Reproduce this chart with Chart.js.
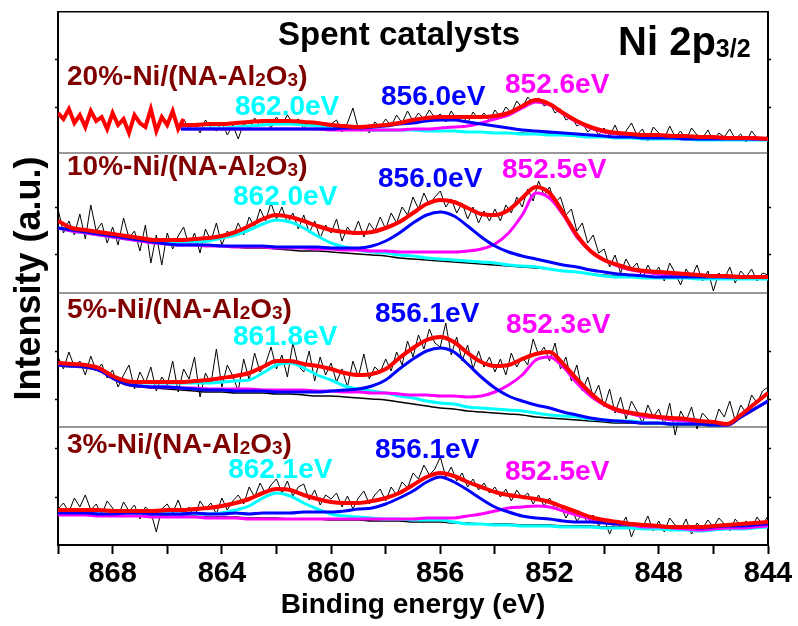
<!DOCTYPE html>
<html>
<head>
<meta charset="utf-8">
<script src="https://cdn.jsdelivr.net/npm/chart.js@4.4.1/dist/chart.umd.min.js"></script>
<style>
  html, body { margin: 0; padding: 0; background: #fff; }
  canvas { display: block; }
</style>
</head>
<body>
<canvas id="xps" width="798" height="626"></canvas>
<script>
// energy grids (eV)
const fitEnergy = [870, 869.5, 869, 868.5, 868, 867.5, 867, 866.5, 866, 865.5,
  865, 864.5, 864, 863.5, 863, 862.5, 862, 861.5, 861, 860.5,
  860, 859.5, 859, 858.5, 858, 857.5, 857, 856.5, 856, 855.5,
  855, 854.5, 854, 853.5, 853, 852.5, 852, 851.5, 851, 850.5,
  850, 849.5, 849, 848.5, 848, 847.5, 847, 846.5, 846, 845.5,
  845, 844.5, 844];
const rawEnergy = [870, 869.8, 869.6, 869.4, 869.2, 869, 868.8, 868.6, 868.4, 868.2,
  868, 867.8, 867.6, 867.4, 867.2, 867, 866.8, 866.6, 866.4, 866.2,
  866, 865.8, 865.6, 865.4, 865.2, 865, 864.8, 864.6, 864.4, 864.2,
  864, 863.8, 863.6, 863.4, 863.2, 863, 862.8, 862.6, 862.4, 862.2,
  862, 861.8, 861.6, 861.4, 861.2, 861, 860.8, 860.6, 860.4, 860.2,
  860, 859.8, 859.6, 859.4, 859.2, 859, 858.8, 858.6, 858.4, 858.2,
  858, 857.8, 857.6, 857.4, 857.2, 857, 856.8, 856.6, 856.4, 856.2,
  856, 855.8, 855.6, 855.4, 855.2, 855, 854.8, 854.6, 854.4, 854.2,
  854, 853.8, 853.6, 853.4, 853.2, 853, 852.8, 852.6, 852.4, 852.2,
  852, 851.8, 851.6, 851.4, 851.2, 851, 850.8, 850.6, 850.4, 850.2,
  850, 849.8, 849.6, 849.4, 849.2, 849, 848.8, 848.6, 848.4, 848.2,
  848, 847.8, 847.6, 847.4, 847.2, 847, 846.8, 846.6, 846.4, 846.2,
  846, 845.8, 845.6, 845.4, 845.2, 845, 844.8, 844.6, 844.4, 844.2,
  844];

// 20%-Ni
const raw20 = [40, 34, 44, 30, 38, 26, 42, 32, 36, 24,
  40, 28, 34, 20, 38, 30, 26, 44, 22, 36,
  28, 42, 24, 34, 24, 30, 20, 33, 26, 22,
  31, 18, 28, 14, 30, 24, 35, 27, 33, 25,
  36, 28, 38, 30, 34, 24, 32, 26, 30, 22,
  29, 33, 21, 30, 45, 24, 28, 20, 31, 26,
  34, 27, 38, 30, 42, 32, 40, 34, 43, 35,
  39, 31, 42, 33, 38, 30, 41, 34, 40, 32,
  43, 36, 46, 40, 52, 45, 56, 50, 55, 47,
  50, 40, 44, 33, 36, 27, 30, 21, 26, 18,
  25, 17, 28, 15, 22, 30, 18, 24, 12, 26,
  20, 14, 27, 16, 22, 13, 25, 18, 15, 23,
  12, 20, 16, 24, 14, 19, 11, 22, 15, 13,
  17];
const bg20 = [null, null, null, null, null, null, null, null, null, 24,
  24, 24, 24, 24, 24, 24, 24, 24, 24, 24,
  23, 23, 23, 23, 23, 23, 23, 22, 22, 22,
  21, 21, 20, 20, 20, 19, 19, 18, 17, 17,
  16, 16, 15, 15, 15, 15, 14, 14, 14, 14,
  14, 14, 14];
const cyan20 = [null, null, null, null, null, null, null, null, null, 24,
  24, 25, 25, 26, 27, 28, 29, 29, 28, 27,
  25, 24, 24, 23, 23, 23, 23, 22, 22, 22,
  21, 21, 20, 20, 19, 19, 18, 18, 17, 16,
  16, 15, 15, 14, 14, 14, 14, 13, 13, 13,
  13, 13, 13];
const blue20 = [null, null, null, null, null, null, null, null, null, 24,
  24, 24, 24, 24, 24, 24, 24, 24, 24, 24,
  24, 25, 25, 26, 27, 29, 30, 32, 33, 33,
  31, 29, 27, 25, 23, 22, 21, 20, 19, 18,
  17, 16, 16, 15, 15, 15, 14, 14, 14, 14,
  14, 14, 14];
const magenta20 = [null, null, null, null, null, null, null, null, null, 24,
  24, 24, 24, 24, 24, 24, 24, 24, 24, 24,
  23, 23, 23, 23, 23, 23, 24, 24, 25, 26,
  27, 30, 34, 38, 45, 51, 48, 39, 31, 25,
  21, 19, 18, 17, 17, 16, 16, 15, 15, 15,
  15, 14, 14];
const fit20 = [null, null, null, null, null, null, null, null, null, 28,
  28, 29, 29, 30, 31, 32, 32, 32, 31, 30,
  28, 27, 26, 27, 28, 30, 33, 35, 36, 36,
  36, 36, 37, 40, 47, 53, 49, 40, 32, 26,
  22, 20, 19, 18, 18, 17, 17, 16, 16, 15,
  15, 15, 14];
const fitStart20 = 865.4;

// 10%-Ni
const raw10 = [84, 60, 72, 58, 79, 54, 88, 62, 70, 50,
  66, 48, 75, 55, 62, 42, 68, 30, 58, 28,
  60, 44, 57, 66, 47, 60, 40, 64, 52, 70,
  48, 62, 56, 70, 58, 76, 66, 84, 72, 90,
  74, 86, 70, 80, 64, 78, 60, 72, 55, 68,
  60, 74, 52, 66, 58, 72, 56, 70, 62, 76,
  64, 80, 70, 86, 78, 96, 84, 100, 88, 96,
  102, 86, 94, 80, 90, 74, 86, 70, 82, 72,
  84, 72, 88, 80, 96, 86, 104, 92, 112, 98,
  106, 90, 96, 78, 84, 62, 70, 50, 58, 40,
  44, 26, 38, 20, 34, 24, 30, 14, 28, 18,
  26, 12, 30, 20, 8, 24, 16, 28, 12, 22,
  2, 20, 14, 26, 10, 22, 16, 24, 12, 20,
  18];
const bg10 = [65, 62, 60, 58, 56, 54, 52, 50, 49, 48,
  48, 47, 47, 46, 45, 45, 44, 43, 42, 42,
  41, 40, 39, 38, 37, 35, 34, 33, 32, 31,
  30, 29, 28, 27, 26, 25, 24, 22, 21, 19,
  18, 17, 17, 16, 16, 16, 16, 15, 15, 15,
  15, 15, 15];
const cyan10 = [65, 62, 60, 58, 56, 54, 52, 51, 50, 50,
  51, 52, 55, 58, 63, 69, 73, 71, 65, 57,
  50, 46, 43, 41, 40, 38, 37, 35, 34, 33,
  32, 31, 30, 28, 27, 26, 24, 22, 21, 19,
  17, 16, 16, 15, 15, 15, 15, 14, 14, 14,
  14, 14, 14];
const blue10 = [65, 63, 61, 59, 57, 55, 53, 51, 49, 48,
  48, 48, 47, 47, 47, 47, 46, 46, 46, 46,
  45, 45, 45, 47, 52, 60, 70, 78, 81, 77,
  67, 56, 47, 41, 37, 34, 31, 28, 26, 23,
  21, 19, 18, 17, 16, 16, 16, 16, 16, 16,
  16, 16, 16];
const magenta10 = [65, 62, 60, 58, 56, 54, 52, 50, 49, 48,
  48, 47, 47, 46, 46, 46, 45, 45, 45, 44,
  44, 43, 43, 42, 42, 41, 41, 41, 41, 41,
  42, 44, 49, 60, 78, 100, 95, 78, 56, 42,
  33, 27, 23, 21, 19, 18, 18, 17, 17, 16,
  16, 16, 16];
const fit10 = [72, 65, 63, 61, 59, 57, 55, 53, 53, 53,
  54, 55, 57, 61, 67, 74, 78, 76, 72, 67,
  63, 61, 60, 61, 65, 71, 80, 89, 93, 91,
  85, 79, 78, 83, 95, 106, 100, 80, 58, 42,
  33, 28, 24, 22, 21, 20, 19, 18, 17, 17,
  16, 16, 16];

// 5%-Ni
const raw5 = [70, 58, 75, 60, 66, 52, 71, 56, 63, 49,
  57, 40, 52, 62, 38, 55, 44, 60, 36, 50,
  42, 66, 35, 58, 48, 70, 30, 54, 43, 78,
  40, 62, 51, 36, 68, 47, 74, 55, 63, 80,
  58, 72, 50, 84, 61, 55, 76, 46, 70, 52,
  64, 45, 58, 40, 66, 50, 73, 48, 60, 55,
  68, 56, 75, 62, 86, 70, 92, 78, 98, 84,
  80, 104, 72, 90, 66, 82, 58, 76, 60, 70,
  55, 68, 52, 74, 60, 70, 62, 88, 72, 80,
  66, 84, 58, 70, 46, 62, 36, 50, 30, 42,
  20, 38, 14, 30, 8, 26, 16, 4, 22, 10,
  18, 2, 24, -8, 16, 6, 20, -2, 14, 8,
  0, 18, 10, 26, 6, 22, 14, 32, 24, 36,
  40];
const bg5 = [61, 60, 59, 56, 48, 42, 40, 39, 38, 37,
  36, 35, 35, 34, 34, 34, 33, 33, 32, 31,
  31, 30, 29, 28, 27, 25, 23, 21, 19, 18,
  16, 15, 14, 13, 12, 10, 9, 8, 7, 6,
  5, 4, 4, 3, 3, 2, 2, 2, 1, 1,
  9, 17, 25];
const cyan5 = [62, 61, 60, 58, 50, 45, 44, 44, 44, 44,
  44, 44, 45, 46, 47, 54, 62, 64, 59, 52,
  47, 41, 38, 36, 34, 31, 29, 26, 24, 23,
  20, 19, 18, 17, 16, 14, 12, 11, 10, 8,
  7, 6, 6, 4, 4, 3, 3, 3, 2, 2,
  10, 18, 26];
const blue5 = [62, 61, 60, 57, 49, 43, 41, 40, 40, 39,
  38, 37, 37, 36, 36, 36, 35, 35, 35, 35,
  36, 37, 38, 41, 47, 58, 68, 76, 79, 75,
  63, 50, 39, 31, 26, 22, 19, 15, 12, 9,
  7, 6, 5, 4, 4, 3, 3, 3, 2, 2,
  10, 18, 26];
const magenta5 = [62, 61, 60, 57, 49, 43, 41, 40, 40, 39,
  39, 38, 38, 38, 38, 37, 37, 37, 37, 36,
  36, 35, 35, 34, 34, 33, 32, 32, 31, 31,
  30, 31, 35, 42, 52, 67, 70, 60, 44, 31,
  22, 16, 13, 10, 9, 7, 6, 4, 3, 2,
  10, 18, 26];
const fit5 = [64, 63, 62, 59, 51, 46, 45, 45, 45, 45,
  46, 47, 49, 51, 54, 60, 66, 66, 63, 61,
  58, 54, 52, 53, 58, 69, 79, 87, 90, 85,
  74, 65, 61, 62, 68, 73, 75, 63, 48, 34,
  23, 17, 14, 12, 10, 9, 8, 6, 5, 3,
  12, 23, 34];

// 3%-Ni
const raw3 = [36, 42, 33, 47, 38, 50, 35, 41, 30, 44,
  37, 28, 43, 34, 40, 26, 38, 33, 13, 36,
  41, 32, 45, 30, 38, 27, 44, 36, 42, 31,
  47, 35, 44, 50, 41, 58, 48, 62, 51, 60,
  66, 52, 64, 49, 58, 61, 45, 55, 40, 50,
  46, 52, 38, 49, 36, 47, 54, 41, 50, 56,
  44, 58, 50, 63, 57, 72, 66, 80, 70, 76,
  88, 68, 78, 64, 72, 58, 66, 55, 62, 52,
  58, 48, 56, 44, 55, 47, 52, 41, 50, 39,
  47, 36, 40, 27, 37, 24, 31, 22, 30, 19,
  26, 11, 24, 18, 28, 8, 22, 17, 29, 14,
  24, 13, 27, 20, 15, 26, 11, 22, 16, 25,
  18, 27, 21, 14, 26, 19, 24, 17, 28, 20,
  29];
const bg3 = [31, 31, 31, 30, 30, 30, 30, 29, 29, 29,
  29, 28, 28, 28, 27, 27, 27, 26, 26, 26,
  25, 25, 25, 24, 24, 24, 23, 23, 23, 22,
  22, 21, 21, 21, 20, 20, 20, 19, 19, 19,
  18, 18, 18, 17, 17, 16, 16, 15, 16, 17,
  17, 18, 19];
const cyan3 = [32, 32, 32, 31, 31, 31, 31, 31, 31, 31,
  31, 31, 32, 35, 39, 47, 52, 49, 42, 36,
  31, 29, 28, 27, 26, 26, 25, 25, 25, 23,
  21, 21, 20, 20, 19, 19, 19, 18, 18, 18,
  17, 17, 17, 16, 16, 15, 15, 14, 15, 16,
  16, 17, 18];
const blue3 = [32, 32, 32, 31, 31, 32, 32, 31, 31, 31,
  32, 31, 31, 32, 31, 32, 32, 32, 33, 33,
  33, 34, 36, 37, 41, 47, 54, 63, 68, 63,
  55, 46, 38, 33, 29, 27, 26, 24, 23, 23,
  22, 21, 21, 20, 19, 18, 18, 17, 18, 19,
  19, 20, 21];
const magenta3 = [30, 30, 30, 29, 29, 29, 29, 28, 28, 28,
  28, 27, 27, 27, 26, 26, 26, 26, 26, 26,
  26, 26, 26, 26, 26, 26, 26, 27, 27, 27,
  29, 31, 34, 37, 38, 39, 38, 34, 30, 26,
  23, 21, 20, 18, 18, 17, 16, 15, 16, 17,
  17, 18, 19];
const fit3 = [35, 35, 35, 35, 34, 34, 34, 34, 35, 35,
  36, 37, 39, 42, 46, 52, 56, 55, 50, 46,
  43, 42, 42, 44, 47, 52, 60, 68, 72, 69,
  63, 58, 53, 50, 48, 46, 43, 38, 33, 28,
  25, 23, 21, 20, 19, 18, 18, 18, 19, 20,
  21, 22, 23];

// axis ticks
const xTicks = [870, 868, 866, 864, 862, 860, 858, 856, 854, 852, 850, 848, 846, 844];
const xTickLabels = ['', '868', '', '864', '', '860', '', '856', '', '852', '', '848', '', '844'];
const yTickMarks = [48, 97, 146, 194, 291, 338, 437, 485];

// labels
const sampleNames = ['20%', '10%', '5%', '3%'];
const cyanLabels = ['862.0eV', '862.0eV', '861.8eV', '862.1eV'];
const blueLabels = ['856.0eV', '856.0eV', '856.1eV', '856.1eV'];
const magentaLabels = ['852.6eV', '852.5eV', '852.3eV', '852.5eV'];

// layout (energy, intensity units of the stacked axis)
const panelBase = [392, 252, 118, 0];
const sampleAt = [[869.67, 460], [869.67, 370], [869.67, 227], [869.67, 92]];
const cyanAt = [[863.52, 430], [863.59, 340], [863.59, 200], [863.77, 67]];
const blueAt = [[858.17, 440], [858.28, 358], [858.39, 223], [858.39, 87]];
const magentaAt = [[853.63, 452], [853.74, 367], [853.59, 212], [853.63, 65]];

const FONT = '"Liberation Sans", Arial, Helvetica, sans-serif';

function line(energies, values, base, color, width, order, smooth) {
    const pts = [];
    values.forEach((v, i) => {
        if (v !== null) pts.push({ x: energies[i], y: base + v });
    });
    return {
        data: pts,
        borderColor: color,
        borderWidth: width,
        pointRadius: 0,
        fill: false,
        order: order,
        tension: smooth ? 0.4 : 0,
        cubicInterpolationMode: smooth ? 'monotone' : 'default'
    };
}

const panels = [
    { raw: raw20, bg: bg20, cyan: cyan20, blue: blue20, magenta: magenta20, fit: fit20 },
    { raw: raw10, bg: bg10, cyan: cyan10, blue: blue10, magenta: magenta10, fit: fit10 },
    { raw: raw5, bg: bg5, cyan: cyan5, blue: blue5, magenta: magenta5, fit: fit5 },
    { raw: raw3, bg: bg3, cyan: cyan3, blue: blue3, magenta: magenta3, fit: fit3 }
];

const datasets = [];
panels.forEach((p, k) => {
    const base = panelBase[k];
    if (k === 0) {
        // raw data before the fit window is drawn thick red
        const redPart = p.raw.map((v, i) => rawEnergy[i] >= fitStart20 ? v : null);
        const blackPart = p.raw.map((v, i) => rawEnergy[i] <= fitStart20 ? v : null);
        datasets.push(line(rawEnergy, redPart, base, '#ff0000', 4, 0, false));
        datasets.push(line(rawEnergy, blackPart, base, '#000000', 1, 5, false));
    } else {
        datasets.push(line(rawEnergy, p.raw, base, '#000000', 1, 5, false));
    }
    datasets.push(line(fitEnergy, p.bg, base, '#000000', 1.5, 4, true));
    datasets.push(line(fitEnergy, p.cyan, base, '#00ffff', 3, 3, true));
    datasets.push(line(fitEnergy, p.magenta, base, '#ff00ff', 3, 2, true));
    datasets.push(line(fitEnergy, p.blue, base, '#0000ff', 3, 1, true));
    datasets.push(line(fitEnergy, p.fit, base, '#ff0000', 4, 0, true));
});
// panel separators
panelBase.slice(0, 3).forEach(b => {
    datasets.push({
        data: [{ x: 870, y: b }, { x: 844, y: b }],
        borderColor: '#333333', borderWidth: 1, pointRadius: 0, order: 6
    });
});

const textPlugin = {
    id: 'xpsText',
    afterDraw(chart) {
        const { ctx, scales: { x, y } } = chart;
        ctx.save();
        ctx.textAlign = 'left';
        ctx.textBaseline = 'alphabetic';
        const put = (parts, at, color) => {
            let px = x.getPixelForValue(at[0]);
            const py = y.getPixelForValue(at[1]);
            ctx.fillStyle = color;
            parts.forEach(([text, size, dy]) => {
                ctx.font = 'bold ' + size + 'px ' + FONT;
                ctx.fillText(text, px, py + (dy || 0));
                px += ctx.measureText(text).width;
            });
        };
        for (let k = 0; k < 4; k++) {
            put([[sampleNames[k] + '-Ni/(NA-Al', 28], ['2', 19, 1], ['O', 28], ['3', 19, 1], [')', 28]],
                sampleAt[k], '#800000');
            put([[cyanLabels[k], 28]], cyanAt[k], '#00ffff');
            put([[blueLabels[k], 28]], blueAt[k], '#0000ff');
            put([[magentaLabels[k], 28]], magentaAt[k], '#ff00ff');
        }
        put([['Spent catalysts', 33]], [861.94, 500], '#000000');
        put([['Ni 2p', 40], ['3/2', 25, 2]], [849.49, 490], '#000000');
        ctx.restore();
    }
};

new Chart(document.getElementById('xps').getContext('2d'), {
    type: 'line',
    data: { datasets: datasets },
    plugins: [textPlugin],
    options: {
        responsive: false,
        animation: false,
        devicePixelRatio: 1,
        layout: { padding: 0 },
        plugins: { legend: { display: false }, tooltip: { enabled: false } },
        scales: {
            x: {
                type: 'linear', position: 'bottom', reverse: true, min: 844, max: 870,
                afterBuildTicks: s => { s.ticks = xTicks.map(v => ({ value: v })); },
                afterFit: s => { s.height = 81; },
                ticks: {
                    autoSkip: false, maxRotation: 0, color: '#000', padding: 3,
                    font: { family: FONT, size: 29, weight: 'bold' },
                    callback: v => xTickLabels[xTicks.indexOf(v)]
                },
                grid: { drawOnChartArea: false, color: '#000', tickLength: 9, tickWidth: 2 },
                border: { color: '#000', width: 2 },
                title: {
                    display: true, text: 'Binding energy (eV)', color: '#000',
                    font: { family: FONT, size: 28, weight: 'bold' },
                    padding: { top: 0, bottom: 4 }
                }
            },
            xTop: {
                type: 'linear', position: 'top', reverse: true, min: 844, max: 870,
                afterBuildTicks: s => { s.ticks = xTicks.map(v => ({ value: v })); },
                afterFit: s => { s.height = 12; },
                ticks: { display: false },
                grid: { drawOnChartArea: false, drawTicks: false },
                border: { color: '#000', width: 1.5 }
            },
            y: {
                type: 'linear', position: 'left', min: 0, max: 533,
                afterBuildTicks: s => { s.ticks = yTickMarks.map(v => ({ value: v })); },
                afterFit: s => { s.width = 58; },
                ticks: { display: false },
                grid: { drawOnChartArea: false, color: '#000', tickLength: 3, tickWidth: 1.5 },
                border: { color: '#000', width: 2 },
                title: {
                    display: true, text: 'Intensity (a.u.)', color: '#000',
                    font: { family: FONT, size: 36, weight: 'bold' },
                    padding: { top: 8, bottom: 0 }
                }
            },
            yRight: {
                type: 'linear', position: 'right', min: 0, max: 533,
                afterBuildTicks: s => { s.ticks = yTickMarks.map(v => ({ value: v })); },
                afterFit: s => { s.width = 30; },
                ticks: { display: false },
                grid: { drawOnChartArea: false, color: '#000', tickLength: 3, tickWidth: 1.5 },
                border: { color: '#000', width: 2 }
            }
        }
    }
});
</script>
</body>
</html>
